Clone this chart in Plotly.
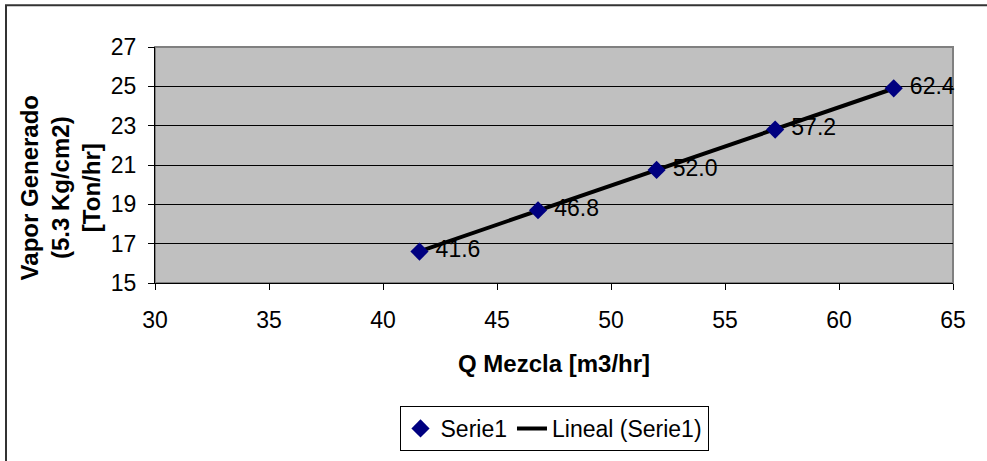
import numpy as np
import plotly.graph_objects as go

# Data
q_mezcla = [41.6, 46.8, 52.0, 57.2, 62.4]
vapor = [16.6, 18.7, 20.75, 22.8, 24.9]
point_labels = ["41.6", "46.8", "52.0", "57.2", "62.4"]
x_ticks = [30, 35, 40, 45, 50, 55, 60, 65]
y_ticks = [15, 17, 19, 21, 23, 25, 27]

# Linear trend line fitted from the series
slope, intercept = np.polyfit(q_mezcla, vapor, 1)
trend_x = [min(q_mezcla), max(q_mezcla)]
trend_y = [slope * v + intercept for v in trend_x]

FONT = "Liberation Sans, Arial, sans-serif"
W, H = 987, 461
L, R, T, B = 155, 34, 47, 177
pw, ph = W - L - R, H - T - B

def px_x(p):
    return (p - L) / pw

def px_y(p):
    return 1 - (p - T) / ph

fig = go.Figure()
fig.add_trace(go.Scatter(
    x=trend_x, y=trend_y, mode="lines", name="Lineal (Serie1)",
    line=dict(color="black", width=4),
))
fig.add_trace(go.Scatter(
    x=q_mezcla, y=vapor, mode="markers+text", name="Serie1",
    marker=dict(symbol="diamond", size=14, color="#000080"),
    text=["\u00a0" + t for t in point_labels], textposition="middle right",
    textfont=dict(family=FONT, size=23, color="black"),
    cliponaxis=False,
))

fig.update_layout(
    width=W, height=H,
    margin=dict(l=L, r=R, t=T, b=B),
    paper_bgcolor="white",
    plot_bgcolor="#C0C0C0",
    font=dict(family=FONT, size=23, color="black"),
    showlegend=True,
    legend=dict(
        orientation="h", x=0.5, xanchor="center",
        y=px_y(406), yanchor="top",
        bordercolor="black", borderwidth=1, bgcolor="white",
        font=dict(family=FONT, size=23, color="black"),
        traceorder="reversed",
    ),
    xaxis=dict(
        range=[30, 65], tickvals=x_ticks, ticks="outside", ticklen=6,
        tickcolor="black", showline=True, linecolor="black", linewidth=1,
        showgrid=False, zeroline=False, ticklabelstandoff=10,
        tickfont=dict(family=FONT, size=23),
    ),
    yaxis=dict(
        range=[15, 27], tickvals=y_ticks, ticks="outside", ticklen=6,
        tickcolor="black", showline=True, linecolor="black", linewidth=1,
        showgrid=True, gridcolor="black", gridwidth=1, zeroline=False,
        ticklabelstandoff=7,
        tickfont=dict(family=FONT, size=23),
    ),
    annotations=[
        dict(text="<b>Q Mezcla [m3/hr]</b>", xref="paper", yref="paper",
             x=0.5, y=px_y(365), xanchor="center", yanchor="middle",
             showarrow=False, font=dict(family=FONT, size=24)),
        dict(text="<b>Vapor Generado<br>(5.3 Kg/cm2)<br>[Ton/hr]</b>",
             xref="paper", yref="paper", x=px_x(60), y=px_y(189),
             xanchor="center", yanchor="middle", textangle=-90,
             showarrow=False, font=dict(family=FONT, size=24)),
    ],
    shapes=[
        # plot area border (gray)
        dict(type="rect", xref="paper", yref="paper", x0=0, y0=0, x1=1, y1=1,
             line=dict(color="#808080", width=2), layer="below"),
        # chart outer border
        dict(type="rect", xref="paper", yref="paper",
             x0=px_x(6), y0=px_y(480), x1=px_x(1000), y1=px_y(5),
             line=dict(color="#333333", width=2)),
    ],
)

fig.write_html("out.html")
